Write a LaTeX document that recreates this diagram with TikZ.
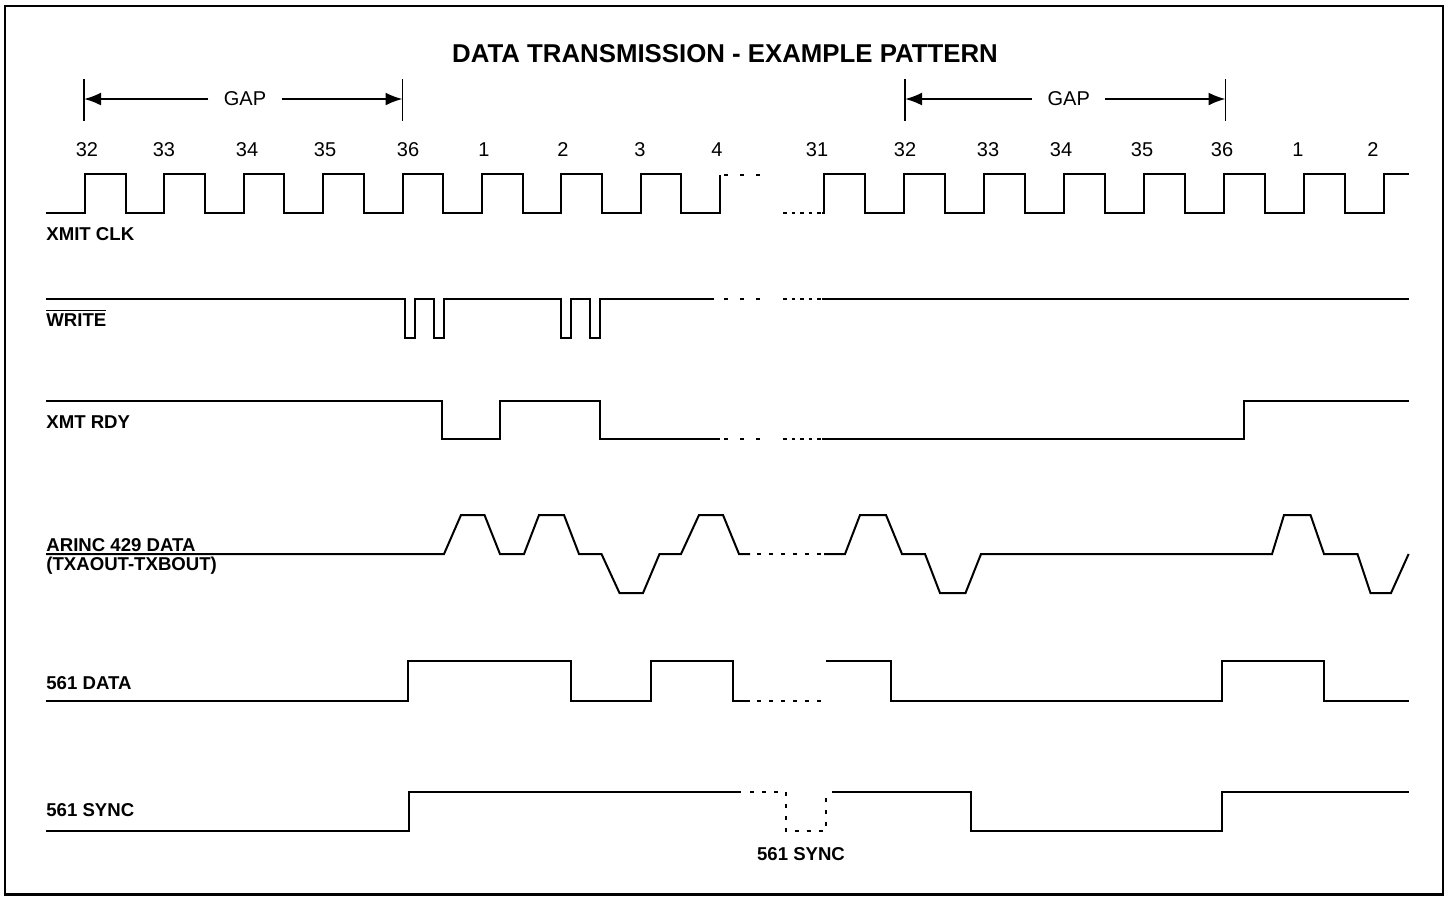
\documentclass[tikz,border=0pt]{standalone}
\usepackage{fontspec}
\setmainfont{Liberation Sans}
\usetikzlibrary{arrows.meta, positioning}

\begin{document}
\begin{tikzpicture}[x=0.5pt, y=-0.5pt,
    wave/.style={line width=1pt, line join=miter},
    gapdots/.style={line width=1pt, dash pattern=on 2pt off 6pt},
    finedots/.style={line width=1pt, dash pattern=on 1.75pt off 2.5pt},
    middots/.style={line width=1pt, dash pattern=on 2pt off 4pt},
    sig/.style={anchor=base west, inner sep=0pt, font=\bfseries\fontsize{9.3}{11}\selectfont},
    num/.style={anchor=base, inner sep=0pt, font=\fontsize{10}{12}\selectfont},
    gaplbl/.style={inner xsep=7.5pt, inner ysep=0pt, font=\fontsize{10}{12}\selectfont},
    gaparrow/.style={line width=1pt, -{Latex[length=8.5pt, width=6.5pt]}},
    bar/.style={line width=0.8pt}]
    \useasboundingbox (0,0) rectangle (1449,896);
    \draw[line width=1.2pt] (4.7,6) rectangle (1442.7,894.3);

    \node[anchor=base, font=\bfseries\fontsize{12.9}{15}\selectfont] (title) at (725,62.7) {DATA TRANSMISSION - EXAMPLE PATTERN};

    \node[gaplbl] (gapL) at (245,99) {GAP};
    \node[gaplbl] (gapR) at (1068.7,99) {GAP};
    \coordinate (gapLa) at (84,99);
    \coordinate (gapLb) at (402.5,99);
    \coordinate (gapRa) at (905,99);
    \coordinate (gapRb) at (1225.5,99);
    \foreach \x in {84,402.5,905,1225.5}
        \draw[bar] (\x,79) -- (\x,121);
    \draw[gaparrow] (gapL.west) -- (gapLa);
    \draw[gaparrow] (gapL.east) -- (gapLb);
    \draw[gaparrow] (gapR.west) -- (gapRa);
    \draw[gaparrow] (gapR.east) -- (gapRb);

    \foreach \x/\n in {87/32,164/33,247/34,325/35,408/36,484/1,563/2,640/3,717/4}
        \node[num] (l\n) at (\x,156) {\n};
    \foreach \x/\n in {817/31,905/32,988/33,1061/34,1142/35,1222/36,1298/1,1373/2}
        \node[num] (r\n) at (\x,156) {\n};

    \node[sig] (clkLbl) at (46,240) {XMIT CLK};
    \node[sig] (wrLbl) at (46,326) {$\overline{\mbox{WRITE}}$};
    \node[sig] (rdyLbl) at (46,428.3) {XMT RDY};
    \node[sig] (arincLbl) at (46,551) {ARINC 429 DATA};
    \node[sig] (txLbl) at (46,570) {(TXAOUT-TXBOUT)};
    \node[sig] (dataLbl) at (46,689.3) {561 DATA};
    \node[sig] (syncLbl) at (46,816.7) {561 SYNC};
    \node[sig, anchor=base] (syncNote) at (801,860) {561 SYNC};

    \draw[wave] (46,213) foreach \x in {85,164.4,243.8,323.2,402.6,482,561.4,640.8} {
        -- (\x,213) -- (\x,174) -- (\x+40.5,174) -- (\x+40.5,213) } -- (720.2,213) -- (720.2,175);
    \draw[gapdots] (724,175) -- (762,175);
    \draw[finedots] (783,213) -- (822,213);
    \draw[wave] (822,213) foreach \x in {824,904,984,1064,1144,1224,1304} {
        -- (\x,213) -- (\x,174) -- (\x+41,174) -- (\x+41,213) } -- (1384,213) -- (1384,174) -- (1408.6,174);

    \draw[wave] (46,299) foreach \x in {404.5,560.5} {
        -- (\x,299) -- (\x,338) -- (\x+10,338) -- (\x+10,299) -- (\x+29,299) -- (\x+29,338) -- (\x+39,338) -- (\x+39,299) }
        -- (714,299);
    \draw[gapdots] (724,299) -- (762,299);
    \draw[finedots] (783,299) -- (822,299);
    \draw[wave] (822,299) -- (1408.6,299);

    \draw[wave] (46,400.7) -- (441.7,400.7) -- (441.7,439.3) -- (500,439.3) -- (500,400.7)
        -- (600.3,400.7) -- (600.3,439.3) -- (720,439.3);
    \draw[gapdots] (724,439.3) -- (762,439.3);
    \draw[finedots] (783,439.3) -- (822,439.3);
    \draw[wave] (822,439.3) -- (1244,439.3) -- (1244,400.7) -- (1408.6,400.7);

    \draw[wave] (46,554) -- (444,554) -- (461,515) -- (484.5,515) -- (500,554) -- (524,554)
        -- (539,515) -- (564,515) -- (579,554) -- (601.5,554) -- (619.5,593) -- (643,593)
        -- (659.5,554) -- (681,554) -- (699,515) -- (723,515) -- (739,554) -- (750,554);
    \draw[middots] (757,554) -- (822,554);
    \draw[wave] (824,554) -- (845,554) -- (860,515) -- (886,515) -- (902,554) -- (925,554)
        -- (940,593) -- (965.5,593) -- (981,554) -- (1272,554) -- (1284,515) -- (1310.5,515)
        -- (1324,554) -- (1357.5,554) -- (1370.5,593) -- (1391,593) -- (1408.6,554);

    \draw[wave] (46,700.7) -- (407.6,700.7) -- (407.6,661) -- (570.5,661) -- (570.5,700.7)
        -- (651,700.7) -- (651,661) -- (733,661) -- (733,700.7) -- (750,700.7);
    \draw[middots] (757,700.7) -- (822,700.7);
    \draw[wave] (825.8,661) -- (890.6,661) -- (890.6,700.7) -- (1222,700.7) -- (1222,661)
        -- (1324,661) -- (1324,700.7) -- (1408.6,700.7);

    \draw[wave] (46,831) -- (408.5,831) -- (408.5,791.7) -- (740.8,791.7);
    \draw[middots] (750,791.7) -- (785.5,791.7) -- (785.5,831) -- (825.8,831) -- (825.8,791.7);
    \draw[wave] (832,791.7) -- (971.2,791.7) -- (971.2,831) -- (1222,831) -- (1222,791.7) -- (1408.6,791.7);
\end{tikzpicture}
\end{document}
